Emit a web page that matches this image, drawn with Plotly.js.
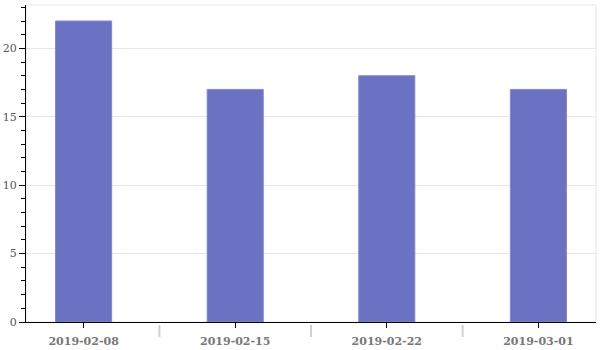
<!DOCTYPE html>
<html>
<head>
<meta charset="utf-8">
<script src="https://cdn.plot.ly/plotly-3.0.1.min.js"></script>
<style>html,body{margin:0;padding:0;background:#fff}#chart{width:600px;height:350px}</style>
</head>
<body>
<div id="chart"></div>
<script>
const categories = ['2019-02-08', '2019-02-15', '2019-02-22', '2019-03-01'];
const counts = [22, 17, 18, 17];
const yTicks = [0, 5, 10, 15, 20];

const boundaries = categories.slice(1).map((c, i) => i + 0.5);
const sepShapes = boundaries.map(b => ({
  type: 'line', xref: 'x', yref: 'paper', x0: b, x1: b, y0: -0.0095, y1: -0.047,
  line: {color: '#d0d0d0', width: 2}
}));

const trace = {
  type: 'bar', x: categories, y: counts, width: 0.37,
  marker: {color: '#6b72c3', line: {color: '#8088d0', width: 1}},
  hoverinfo: 'none'
};

const layout = {
  width: 600, height: 350,
  margin: {l: 26, r: 4, t: 5, b: 28},
  paper_bgcolor: '#fff', plot_bgcolor: '#fff',
  showlegend: false,
  xaxis: {
    type: 'category', range: [-0.38, 3.38],
    showgrid: false, zeroline: false,
    showline: true, linecolor: '#000', linewidth: 1,
    ticks: 'outside', ticklen: 5, tickcolor: '#000', tickwidth: 1,
    tickfont: {family: 'DejaVu Serif', size: 11, color: '#777', weight: 'bold'},
    ticklabelstandoff: 4,
    fixedrange: true
  },
  yaxis: {
    range: [0, 23.17], tickvals: yTicks, ticktext: yTicks.map(String),
    showgrid: true, gridcolor: '#e6e6e6', gridwidth: 1, zeroline: false,
    showline: true, linecolor: '#000', linewidth: 1,
    ticks: 'outside', ticklen: 6, tickcolor: '#000', tickwidth: 1,
    minor: {dtick: 1, tick0: 0, ticks: 'outside', ticklen: 4, tickcolor: '#000', showgrid: false},
    tickfont: {family: 'DejaVu Serif', size: 11, color: '#555'},
    ticklabelstandoff: 0,
    fixedrange: true
  },
  shapes: [
    {type: 'rect', xref: 'paper', yref: 'paper', x0: 0, x1: 1, y0: 0, y1: 1,
     line: {color: '#e6e6e6', width: 1}, layer: 'below'}
  ].concat(sepShapes)
};

Plotly.newPlot('chart', [trace], layout, {displayModeBar: false, staticPlot: true});
</script>
</body>
</html>
